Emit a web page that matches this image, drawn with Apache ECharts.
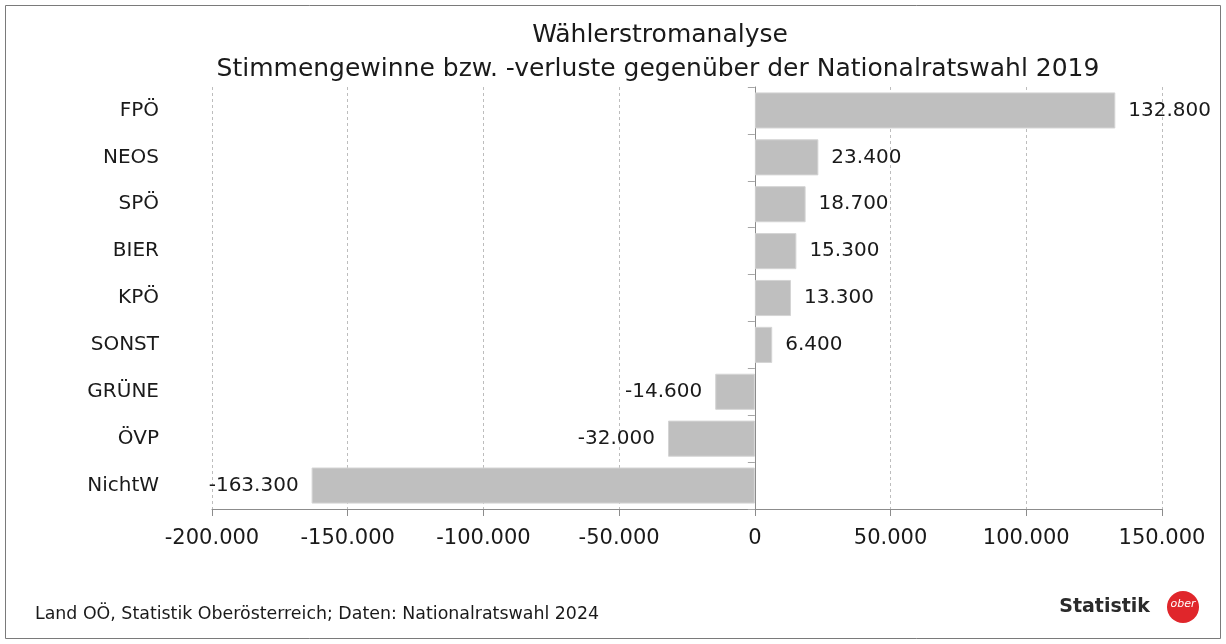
<!DOCTYPE html>
<html><head><meta charset="utf-8">
<script src="https://cdn.jsdelivr.net/npm/echarts@6/dist/echarts.min.js"></script>
<style>html,body{margin:0;padding:0;background:#fff}#c{width:1226px;height:644px}</style>
</head><body><div id="c"></div>
<script>
const categories = ['FPÖ','NEOS','SPÖ','BIER','KPÖ','SONST','GRÜNE','ÖVP','NichtW'];
const values = [132800, 23400, 18700, 15300, 13300, 6400, -14600, -32000, -163300];
const xTicks = [-200000, 150000, 50000];
const titleLines = ['Wählerstromanalyse','Stimmengewinne bzw. -verluste gegenüber der Nationalratswahl 2019'];
const source = 'Land OÖ, Statistik Oberösterreich; Daten: Nationalratswahl 2024';
const FONT = '"DejaVu Sans", sans-serif';
function fmt(v){const s=Math.abs(v).toString().replace(/\B(?=(\d{3})+(?!\d))/g,'.');return (v<0?'-':'')+s;}
const chart = echarts.init(document.getElementById('c'), null, {renderer:'canvas'});
chart.setOption({
  backgroundColor:'#fff',
  animation:false,
  textStyle:{fontFamily:FONT},
  grid:{left:212,right:64,top:87,bottom:135,containLabel:false},
  xAxis:{type:'value',min:xTicks[0],max:xTicks[1],interval:xTicks[2],
    axisLine:{show:true,onZero:false,lineStyle:{color:'#8c8c8c',width:1}},
    axisTick:{show:true,length:7,lineStyle:{color:'#8c8c8c'}},
    axisLabel:{margin:19,fontSize:21,color:'#1a1a1a',fontFamily:FONT,formatter:fmt},
    splitLine:{show:true,lineStyle:{color:'#bdbdbd',type:[3,3],width:1}}},
  yAxis:[
    {type:'category',data:categories,inverse:true,
      axisLine:{show:false,onZero:false},axisTick:{show:false},
      axisLabel:{margin:53,fontSize:20,color:'#1a1a1a',fontFamily:FONT},splitLine:{show:false}},
    {type:'category',data:categories,inverse:true,position:'left',
      axisLine:{show:true,onZero:true,lineStyle:{color:'#8c8c8c'}},
      axisTick:{show:true,length:7,lineStyle:{color:'#a6a6a6'}},
      axisLabel:{show:false},splitLine:{show:false}}
  ],
  series:[{type:'bar',yAxisIndex:0,data:values.map(v=>({value:v,label:{position:v<0?'left':'right'}})),
    barWidth:'77%',
    itemStyle:{color:'#bfbfbf',borderColor:'#d4d4d4',borderWidth:1},
    label:{show:true,distance:13,fontSize:20,color:'#1a1a1a',fontFamily:FONT,formatter:p=>fmt(p.value)},
    z:3}],
  graphic:[
    {type:'rect',shape:{x:5.5,y:5.5,width:1215,height:633},style:{fill:null,stroke:'#7a7a7a',lineWidth:1},silent:true,z:-1},
    {type:'text',x:660,y:35,style:{text:titleLines[0],font:'25px '+FONT,fill:'#1a1a1a',textAlign:'center',textVerticalAlign:'middle'}},
    {type:'text',x:658,y:69,style:{text:titleLines[1],font:'25px '+FONT,fill:'#1a1a1a',textAlign:'center',textVerticalAlign:'middle'}},
    {type:'text',x:35,y:614,style:{text:source,font:'17.4px '+FONT,fill:'#1a1a1a',textAlign:'left',textVerticalAlign:'middle'}},
    {type:'text',x:1150,y:607,style:{text:'Statistik',font:'bold 19px "DejaVu Sans", sans-serif',fill:'#2b2b2b',textAlign:'right',textVerticalAlign:'middle'}},
    {type:'circle',shape:{cx:1183,cy:607,r:16},style:{fill:'#e0262b'}},
    {type:'text',x:1183,y:604,style:{text:'ober',font:'italic 11px "DejaVu Sans", sans-serif',fill:'#fff',textAlign:'center',textVerticalAlign:'middle'}}
  ]
});
</script></body></html>
